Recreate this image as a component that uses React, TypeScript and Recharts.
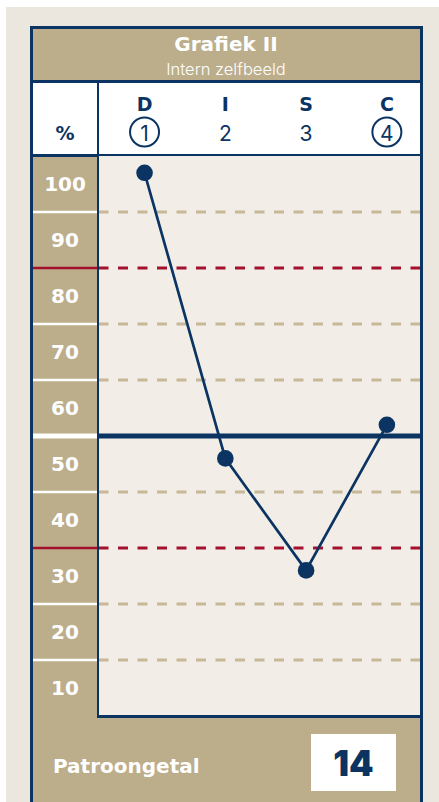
import React from "react";
import { LineChart, Line, XAxis, YAxis, CartesianGrid, ReferenceLine } from "recharts";

const categories = ["D", "I", "S", "C"];
const categoryNumbers = [1, 2, 3, 4];
const circledNumbers = [1, 4];
const values = [97, 46, 26, 52];
const yTicks = [100, 90, 80, 70, 60, 50, 40, 30, 20, 10];
const dashedLines = [90, 70, 60, 40, 20, 10];
const redLines = [80, 30];
const midLine = 50;
const patternNumber = 14;

const NAVY = "#0b3463";
const TAN = "#bcad8b";
const PLOT_BG = "#f2eee7";
const PAGE_BG = "#ebe7de";
const RED = "#a3112f";
const DASH = "#c6b898";
const BOLD = "'DejaVu Sans', sans-serif";
const LIGHT = "Inter, 'Open Sans', sans-serif";

const data = categories.map((c, i) => ({ x: categoryNumbers[i], name: c, value: values[i] }));

const HEADER_H = 73;
const PLOT_H = 560;
const BAND = PLOT_H / 10;

function HeaderTick(props: any) {
  const { x, payload } = props;
  const i = categoryNumbers.indexOf(payload.value);
  if (i < 0) return null;
  const circled = circledNumbers.includes(payload.value);
  return (
    <g>
      <text x={x} y={21} textAnchor="middle" dominantBaseline="central" fill={NAVY} fontSize={19} fontWeight={700} fontFamily={BOLD}>
        {categories[i]}
      </text>
      {circled && <circle cx={x} cy={49} r={14.5} fill="none" stroke={NAVY} strokeWidth={2} />}
      <text x={x} y={50} textAnchor="middle" dominantBaseline="central" fill={NAVY} fontSize={21} fontWeight={400} fontFamily={LIGHT}>
        {categoryNumbers[i]}
      </text>
    </g>
  );
}

function LeftTick(props: any) {
  const { y, payload } = props;
  const v = payload.value;
  let line = null;
  if (v < 100) {
    const isRed = redLines.includes(v);
    const isMid = v === midLine;
    line = (
      <line x1={0} x2={66} y1={y} y2={y} stroke={isRed ? RED : "#ffffff"} strokeWidth={isMid ? 5 : 2.5} />
    );
  }
  return (
    <g>
      {line}
      <text x={32} y={y + BAND / 2} textAnchor="middle" dominantBaseline="central" fill="#ffffff" fontSize={20} fontWeight={700} fontFamily={BOLD}>
        {v}
      </text>
    </g>
  );
}

export default function App() {
  return (
    <div style={{ position: "absolute", left: 0, top: 0, width: 439, height: 802, overflow: "hidden", fontFamily: BOLD }}>
      <div style={{ position: "absolute", left: 6, top: 7, width: 433, height: 795, background: PAGE_BG }} />
      <div
        style={{
          position: "absolute",
          left: 29.5,
          top: 26,
          width: 393,
          height: 800,
          border: `3px solid ${NAVY}`,
          boxSizing: "border-box",
          background: TAN,
        }}
      />
      <div style={{ position: "absolute", left: 29.5, top: 32, width: 393, textAlign: "center", color: "#fff", fontSize: 20, fontWeight: 700, lineHeight: "24px" }}>
        Grafiek II
      </div>
      <div style={{ position: "absolute", left: 29.5, top: 58, width: 393, textAlign: "center", color: "#fff", fontFamily: LIGHT, fontSize: 16.5, fontWeight: 300, lineHeight: "22px" }}>
        Intern zelfbeeld
      </div>
      <div style={{ position: "absolute", left: 30, top: 80, width: 392, height: 3, background: NAVY }} />
      <div style={{ position: "absolute", left: 32.5, top: 83, width: 387, height: 72, background: "#fff" }} />
      <div style={{ position: "absolute", left: 32.5, top: 154.3, width: 387, height: 2.5, background: NAVY }} />
      <div style={{ position: "absolute", left: 32.5, top: 120, width: 65, textAlign: "center", color: NAVY, fontSize: 19, fontWeight: 700, lineHeight: "26px" }}>
        %
      </div>

      <div style={{ position: "absolute", left: 32.5, top: 83 }}>
        <LineChart width={387} height={HEADER_H + PLOT_H} data={data} margin={{ top: 0, right: 0, bottom: 0, left: 0 }}>
          <CartesianGrid horizontal={false} vertical={false} fill={PLOT_BG} />
          <XAxis
            type="number"
            dataKey="x"
            domain={[0.43, 4.41]}
            ticks={categoryNumbers}
            orientation="top"
            height={HEADER_H}
            axisLine={false}
            tickLine={false}
            tick={<HeaderTick />}
            interval={0}
          />
          <YAxis
            type="number"
            domain={[0, 100]}
            ticks={yTicks}
            width={65.5}
            axisLine={false}
            tickLine={false}
            tick={<LeftTick />}
            interval={0}
          />
          {dashedLines.map((v) => (
            <ReferenceLine key={v} y={v} stroke={DASH} strokeWidth={3} strokeDasharray="10 9.5" />
          ))}
          {redLines.map((v) => (
            <ReferenceLine key={v} y={v} stroke={RED} strokeWidth={3} strokeDasharray="10 9.5" />
          ))}
          <ReferenceLine y={midLine} stroke={NAVY} strokeWidth={5} />
          <Line
            type="linear"
            dataKey="value"
            stroke={NAVY}
            strokeWidth={2.7}
            dot={{ r: 8.3, fill: NAVY, stroke: "none" }}
            isAnimationActive={false}
          />
        </LineChart>
      </div>

      <div style={{ position: "absolute", left: 96.7, top: 83, width: 2.6, height: 634, background: NAVY }} />
      <div style={{ position: "absolute", left: 96.7, top: 715, width: 323, height: 2.5, background: NAVY }} />

      <div style={{ position: "absolute", left: 53, top: 752, color: "#fff", fontSize: 20, fontWeight: 700, lineHeight: "28px" }}>
        Patroongetal
      </div>
      <div
        style={{
          position: "absolute",
          left: 311,
          top: 734,
          width: 85,
          height: 57,
          background: "#fff",
          color: NAVY,
          fontFamily: LIGHT,
          fontSize: 35,
          fontWeight: 900,
          display: "flex",
          alignItems: "center",
          justifyContent: "center",
        }}
      >
        {patternNumber}
      </div>
    </div>
  );
}
